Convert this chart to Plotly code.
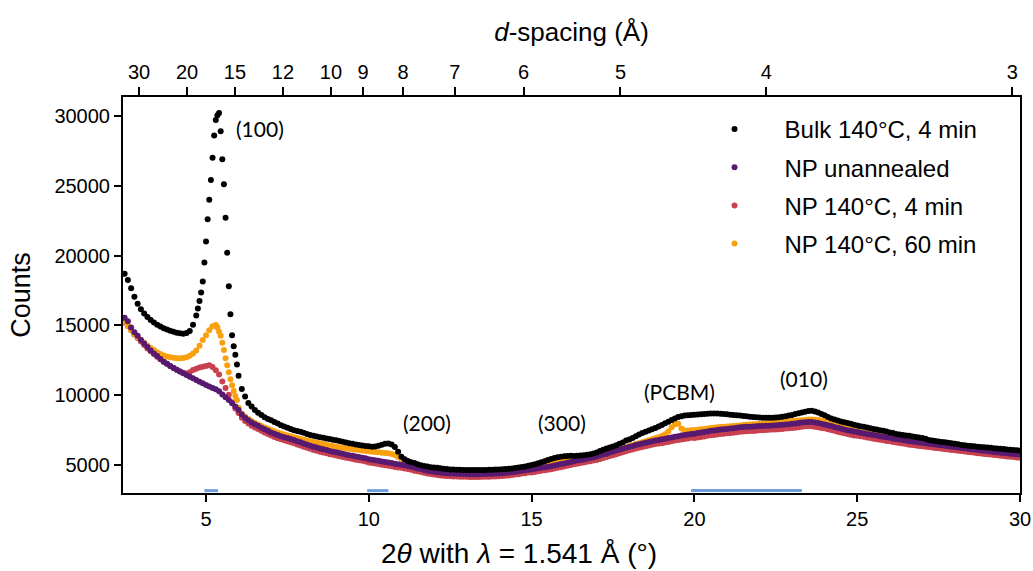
import numpy as np
import plotly.graph_objects as go

WAVELENGTH = 1.541  # Cu K-alpha, Å

# Scan grid (2θ, degrees)
two_theta = np.round(np.arange(2.5, 30.0 + 1e-9, 0.1), 2)

bulk_counts = [
    18700, 18250, 17650, 17050, 16550,
    16150, 15850, 15600, 15380, 15200, 15040, 14920, 14800, 14700, 14620,
    14540, 14470, 14430, 14400, 14450, 14600, 15050, 15700, 16750, 18150,
    21000, 24000, 27000, 29700, 30200, 26900, 22700, 17800, 14300, 12900,
    11400, 10450, 9900, 9450, 9200, 8950, 8750, 8580, 8430, 8300,
    8200, 8090, 7970, 7850, 7760, 7670, 7580, 7500, 7440, 7380,
    7310, 7230, 7150, 7100, 7050, 7000, 6950, 6910, 6860, 6810,
    6770, 6720, 6670, 6620, 6570, 6530, 6480, 6440, 6400, 6370,
    6340, 6310, 6330, 6390, 6460, 6530, 6550, 6480, 6300, 5950,
    5600, 5420, 5290, 5200, 5140, 5060, 4990, 4930, 4890, 4850,
    4830, 4800, 4770, 4740, 4710, 4690, 4680, 4670, 4660, 4650,
    4640, 4640, 4640, 4640, 4640, 4650, 4650, 4660, 4670, 4680,
    4690, 4700, 4720, 4740, 4760, 4790, 4820, 4860, 4900, 4950,
    5000, 5060, 5130, 5200, 5280, 5360, 5430, 5500, 5560, 5600,
    5630, 5650, 5660, 5650, 5660, 5680, 5700, 5730, 5770, 5820,
    5900, 6000, 6090, 6180, 6260, 6330, 6420, 6520, 6620, 6760,
    6830, 6940, 7060, 7190, 7290, 7380, 7470, 7560, 7660, 7760,
    7870, 7990, 8100, 8220, 8340, 8440, 8500, 8540, 8570, 8590,
    8600, 8620, 8640, 8660, 8680, 8700, 8700, 8690, 8670, 8650,
    8630, 8610, 8590, 8570, 8550, 8520, 8490, 8460, 8440, 8420,
    8400, 8390, 8380, 8380, 8390, 8400, 8420, 8450, 8490, 8540,
    8590, 8650, 8710, 8760, 8820, 8870, 8880, 8840, 8760, 8660,
    8560, 8440, 8340, 8260, 8190, 8120, 8060, 8010, 7950, 7890,
    7830, 7780, 7740, 7690, 7640, 7590, 7540, 7500, 7450, 7400,
    7340, 7290, 7230, 7190, 7150, 7120, 7090, 7050, 7010, 6970,
    6930, 6880, 6800, 6760, 6720, 6690, 6660, 6630, 6600, 6570,
    6520, 6490, 6440, 6410, 6390, 6370, 6350, 6320, 6300, 6280,
    6260, 6240, 6210, 6190, 6170, 6150, 6120, 6100, 6080, 6060,
    6040,
]
# finer sampling across the (100) reflection of the bulk film
bulk_peak_theta = [4.75, 4.85, 4.95, 5.05, 5.15, 5.25, 5.35, 5.45, 5.55, 5.65, 5.75, 5.85, 5.95]
bulk_peak_counts = [16200, 17350, 19500, 22600, 25400, 28600, 30050, 28900, 25100, 20200, 15800, 13500, 12200]

np_unannealed_counts = [
    15550, 15300, 14850, 14500, 14250,
    13950, 13700, 13450, 13200, 12980, 12800, 12600, 12400, 12250, 12100,
    11950, 11830, 11700, 11570, 11450, 11330, 11210, 11090, 10970, 10850,
    10740, 10630, 10520, 10420, 10280, 10060, 9850, 9650, 9420, 9200,
    8950, 8620, 8380, 8200, 8050, 7920, 7810, 7680, 7560, 7450,
    7340, 7240, 7150, 7070, 7000, 6930, 6860, 6790, 6710, 6630,
    6550, 6470, 6390, 6310, 6250, 6190, 6130, 6070, 6010, 5960,
    5910, 5860, 5810, 5760, 5710, 5660, 5610, 5570, 5530, 5490,
    5420, 5380, 5340, 5300, 5260, 5220, 5180, 5140, 5100, 5060,
    5020, 4980, 4930, 4880, 4820, 4760, 4710, 4650, 4600, 4560,
    4520, 4490, 4460, 4440, 4420, 4400, 4390, 4380, 4370, 4360,
    4360, 4350, 4350, 4350, 4350, 4360, 4360, 4370, 4380, 4390,
    4400, 4420, 4440, 4460, 4490, 4520, 4550, 4590, 4620, 4660,
    4690, 4730, 4770, 4810, 4850, 4880, 4920, 4970, 5020, 5070,
    5120, 5170, 5220, 5270, 5320, 5360, 5400, 5450, 5500, 5550,
    5590, 5660, 5730, 5800, 5880, 5950, 6020, 6090, 6160, 6240,
    6310, 6370, 6430, 6490, 6550, 6600, 6650, 6700, 6750, 6800,
    6840, 6890, 6940, 6980, 7030, 7070, 7110, 7150, 7190, 7230,
    7250, 7290, 7330, 7370, 7410, 7450, 7480, 7510, 7540, 7570,
    7590, 7620, 7640, 7670, 7700, 7720, 7740, 7750, 7760, 7780,
    7790, 7800, 7810, 7820, 7840, 7850, 7870, 7890, 7910, 7930,
    7950, 7980, 8010, 8040, 8070, 8090, 8080, 8050, 8010, 7960,
    7910, 7850, 7790, 7730, 7670, 7610, 7550, 7500, 7450, 7400,
    7360, 7320, 7280, 7230, 7190, 7150, 7110, 7070, 7030, 6990,
    6950, 6910, 6870, 6830, 6790, 6750, 6710, 6680, 6650, 6620,
    6590, 6560, 6530, 6500, 6470, 6440, 6410, 6380, 6350, 6320,
    6290, 6260, 6230, 6200, 6170, 6140, 6110, 6080, 6050, 6020,
    6000, 5970, 5940, 5920, 5890, 5860, 5840, 5810, 5790, 5770,
    5750,
]

np_140c_4min_counts = [
    15200, 14950, 14650, 14350, 14100,
    13850, 13600, 13350, 13150, 12950, 12750, 12570, 12400, 12250, 12100,
    11960, 11830, 11700, 11600, 11550, 11650, 11800, 11900, 11980, 12040,
    12100, 12150, 12020, 11780, 11480, 10990, 10510, 10040, 9500, 9050,
    8720, 8390, 8150, 7970, 7820, 7690, 7580, 7450, 7330, 7220,
    7110, 7010, 6920, 6840, 6770, 6700, 6630, 6560, 6480, 6400,
    6320, 6240, 6160, 6080, 6020, 5960, 5900, 5840, 5780, 5730,
    5680, 5630, 5580, 5530, 5480, 5430, 5380, 5340, 5300, 5260,
    5190, 5150, 5110, 5070, 5030, 4990, 4950, 4910, 4870, 4830,
    4800, 4760, 4710, 4660, 4600, 4550, 4500, 4450, 4400, 4360,
    4320, 4290, 4260, 4240, 4220, 4200, 4190, 4180, 4170, 4160,
    4160, 4150, 4150, 4150, 4150, 4160, 4160, 4170, 4180, 4190,
    4200, 4220, 4240, 4260, 4290, 4320, 4350, 4390, 4420, 4460,
    4470, 4510, 4550, 4590, 4630, 4660, 4700, 4750, 4800, 4850,
    4900, 4950, 5000, 5050, 5100, 5140, 5180, 5230, 5280, 5330,
    5370, 5440, 5500, 5570, 5640, 5710, 5780, 5850, 5920, 5990,
    6060, 6120, 6180, 6240, 6300, 6350, 6400, 6450, 6500, 6550,
    6560, 6610, 6660, 6700, 6750, 6790, 6830, 6870, 6910, 6950,
    6930, 6970, 7010, 7050, 7090, 7130, 7160, 7190, 7220, 7250,
    7270, 7300, 7320, 7350, 7380, 7400, 7420, 7430, 7440, 7460,
    7490, 7500, 7510, 7520, 7540, 7550, 7570, 7590, 7610, 7630,
    7650, 7680, 7710, 7740, 7770, 7790, 7780, 7750, 7710, 7660,
    7630, 7570, 7510, 7450, 7390, 7330, 7270, 7220, 7170, 7120,
    7100, 7060, 7020, 6970, 6930, 6890, 6850, 6810, 6770, 6730,
    6700, 6660, 6620, 6580, 6540, 6500, 6460, 6430, 6400, 6370,
    6350, 6320, 6290, 6260, 6230, 6200, 6170, 6140, 6110, 6080,
    6060, 6030, 6000, 5970, 5940, 5910, 5880, 5850, 5820, 5790,
    5780, 5750, 5720, 5700, 5670, 5640, 5620, 5590, 5570, 5550,
    5530,
]

np_140c_60min_counts = [
    15250, 14950, 14650, 14380, 14150,
    13950, 13750, 13560, 13380, 13230, 13080, 12950, 12850, 12780, 12720,
    12680, 12650, 12640, 12660, 12720, 12820, 12990, 13200, 13550, 13950,
    14300, 14650, 14930, 15030, 14550, 13750, 12650, 11650, 10720, 9950,
    9100, 8700, 8480, 8300, 8150, 8020, 7900, 7790, 7690, 7600,
    7510, 7420, 7340, 7260, 7190, 7120, 7060, 7000, 6940, 6880,
    6820, 6760, 6700, 6650, 6600, 6550, 6500, 6450, 6400, 6360,
    6320, 6280, 6240, 6200, 6160, 6130, 6100, 6070, 6040, 6010,
    5980, 5950, 5930, 5910, 5890, 5870, 5850, 5790, 5720, 5580,
    5430, 5300, 5180, 5060, 4960, 4870, 4790, 4720, 4660, 4610,
    4560, 4530, 4500, 4480, 4460, 4440, 4430, 4420, 4410, 4400,
    4390, 4390, 4390, 4390, 4390, 4400, 4400, 4410, 4420, 4430,
    4450, 4470, 4490, 4510, 4540, 4570, 4610, 4650, 4690, 4740,
    4790, 4840, 4890, 4940, 4990, 5040, 5100, 5160, 5210, 5260,
    5310, 5350, 5380, 5410, 5430, 5450, 5470, 5490, 5520, 5560,
    5600, 5650, 5700, 5780, 5860, 5950, 6030, 6110, 6190, 6270,
    6350, 6430, 6500, 6570, 6640, 6710, 6780, 6850, 6920, 7000,
    7080, 7200, 7400, 7700, 7930, 7950, 7620, 7480, 7480, 7500,
    7510, 7530, 7560, 7590, 7620, 7650, 7680, 7700, 7720, 7740,
    7760, 7780, 7800, 7820, 7840, 7860, 7880, 7900, 7920, 7930,
    7950, 7970, 7990, 8010, 8030, 8050, 8070, 8090, 8110, 8130,
    8150, 8170, 8190, 8210, 8230, 8260, 8270, 8250, 8220, 8190,
    8150, 8100, 8040, 7980, 7910, 7840, 7770, 7690, 7610, 7530,
    7440, 7390, 7340, 7290, 7250, 7210, 7170, 7130, 7090, 7050,
    7010, 6970, 6930, 6890, 6850, 6810, 6770, 6740, 6710, 6680,
    6650, 6620, 6590, 6560, 6530, 6500, 6470, 6440, 6410, 6380,
    6350, 6320, 6290, 6260, 6230, 6200, 6170, 6140, 6110, 6080,
    6060, 6030, 6000, 5980, 5950, 5920, 5900, 5870, 5850, 5830,
    5810,
]
np60_peak_theta = [5.35, 5.45, 5.55, 5.65, 5.75, 5.85, 5.95]
np60_peak_counts = [14850, 14250, 13230, 12150, 11150, 10300, 9650]

for arr in (bulk_counts, np_unannealed_counts, np_140c_4min_counts, np_140c_60min_counts):
    assert len(arr) == len(two_theta), len(arr)

# Reflection labels
peak_labels = ["(100)", "(200)", "(300)", "(PCBM)", "(010)"]
peak_label_theta = [6.66, 11.78, 15.92, 19.54, 23.37]
peak_label_counts = [29130, 8080, 8080, 10300, 11230]

# d-spacing ticks for the top axis (Å)
d_ticks = [30, 20, 15, 12, 10, 9, 8, 7, 6, 5, 4, 3]

# Marked 2θ windows along the lower axis
window_start = [4.95, 9.95, 19.9]
window_end = [5.37, 10.6, 23.3]

X_RANGE = [2.45, 30.0]
Y_RANGE = [3000, 31350]
AXIS_FONT = "Liberation Sans, Arial, sans-serif"

top_tickvals = 2 * np.degrees(np.arcsin(WAVELENGTH / (2 * np.array(d_ticks, dtype=float))))

fig = go.Figure()

# draw order: red, orange, purple, black on top
series = [
    ("NP 140°C, 4 min", two_theta, np_140c_4min_counts, "#c9404f", 3),
    ("NP 140°C, 60 min",
     np.concatenate([two_theta, np60_peak_theta]),
     list(np_140c_60min_counts) + np60_peak_counts, "#f9a00e", 4),
    ("NP unannealed", two_theta, np_unannealed_counts, "#581a70", 2),
    ("Bulk 140°C, 4 min",
     np.concatenate([two_theta, bulk_peak_theta]),
     list(bulk_counts) + bulk_peak_counts, "#000000", 1),
]
for name, xs, ys, color, rank in series:
    fig.add_trace(go.Scatter(
        x=xs, y=ys, mode="markers", name=name,
        marker=dict(color=color, size=6, line=dict(width=0)),
        legendrank=rank, legendgroup=name,
    ))

# anchor trace for the d-spacing axis
fig.add_trace(go.Scatter(x=X_RANGE, y=[None, None], xaxis="x2", yaxis="y",
                         mode="markers", showlegend=False, hoverinfo="skip"))

for x0, x1 in zip(window_start, window_end):
    fig.add_shape(type="line", xref="x", yref="paper", x0=x0, x1=x1, y0=0.006, y1=0.006,
                  line=dict(color="#6f9edb", width=3), layer="above")

for text, xv, yv in zip(peak_labels, peak_label_theta, peak_label_counts):
    fig.add_annotation(x=xv, y=yv, text=text, showarrow=False,
                       font=dict(family="Lato, Carlito, sans-serif", size=21, color="black"))

# lower axis title
fig.add_annotation(xref="paper", yref="paper", x=(519 - 123) / 897, y=-0.152,
                   text="2<i>θ</i> with <i>λ</i> = 1.541 Å (°)", showarrow=False,
                   xanchor="center", yanchor="middle",
                   font=dict(family=AXIS_FONT, size=28, color="black"))

axis_common = dict(showgrid=False, zeroline=False, showline=True, linecolor="black",
                   linewidth=2, ticks="outside", tickcolor="black", tickwidth=1.5,
                   automargin=False,
                   tickfont=dict(family=AXIS_FONT, size=20, color="black"))

fig.update_layout(
    width=1033, height=571, autosize=False,
    margin=dict(l=123, r=13, t=97, b=78),
    paper_bgcolor="white", plot_bgcolor="white",
    xaxis=dict(range=X_RANGE, tickvals=[5, 10, 15, 20, 25, 30], ticklen=7, **axis_common),
    xaxis2=dict(range=X_RANGE, overlaying="x", side="top", anchor="y",
                tickvals=list(top_tickvals), ticktext=[str(d) for d in d_ticks], ticklen=8,
                title=dict(text="<i>d</i>-spacing (Å)", standoff=12,
                           font=dict(family=AXIS_FONT, size=26, color="black")),
                **axis_common),
    yaxis=dict(range=Y_RANGE, tickvals=[5000, 10000, 15000, 20000, 25000, 30000],
               tickformat="d", ticklen=7, mirror=True,
               title=dict(text="Counts", standoff=16,
                          font=dict(family=AXIS_FONT, size=27, color="black")),
               **axis_common),
    legend=dict(x=0.626, y=0.975, xanchor="left", yanchor="top",
                font=dict(family=AXIS_FONT, size=24, color="black"),
                bgcolor="rgba(0,0,0,0)", itemwidth=90, tracegroupgap=4),
    showlegend=True,
)

fig.write_html("out.html")
